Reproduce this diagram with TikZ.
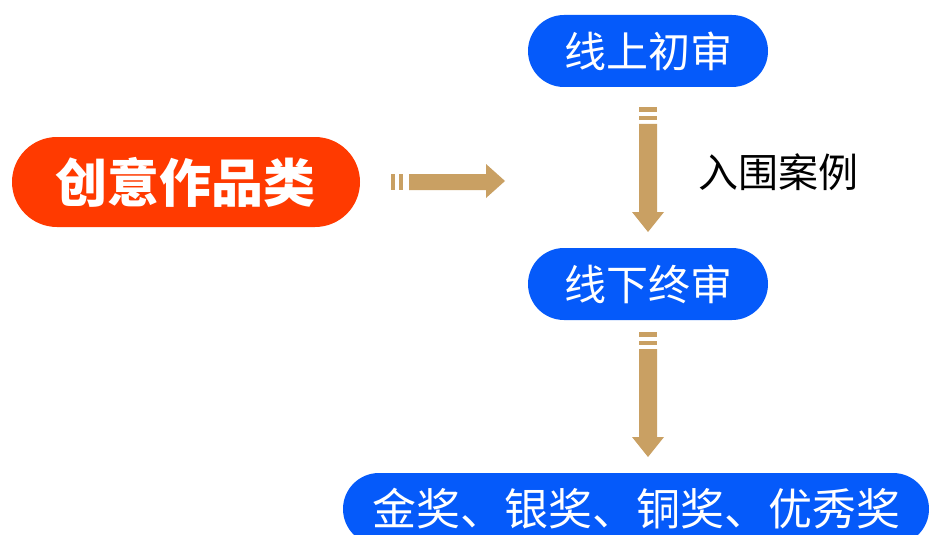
\documentclass[tikz,border=0pt]{standalone}
\usepackage{fontspec}
\setmainfont{Noto Sans CJK SC}
\definecolor{pillblue}{RGB}{5,90,250}
\definecolor{pillorange}{RGB}{255,58,0}
\definecolor{arrowgold}{RGB}{201,160,99}
\tikzset{
  pill/.style={fill=pillblue, text=white, minimum width=240pt, minimum height=72pt,
    rounded corners=36pt, inner sep=0pt, font=\fontsize{42}{48}\selectfont},
  goldfill/.style={fill=arrowgold},
}
\begin{document}
\begin{tikzpicture}[x=1pt,y=-1pt]
\useasboundingbox (0,0) rectangle (930,535);
\clip (0,0) rectangle (930,535);
\fill[white] (0,0) rectangle (930,535);
% nodes
\node[pill, fill=pillorange, minimum width=348pt, minimum height=90pt, rounded corners=45pt,
  font=\fontsize{52}{58}\selectfont\bfseries] (cat) at (186,182) {创意作品类};
\node[pill] (online) at (648,51) {线上初审};
\node[pill] (offline) at (648,284) {线下终审};
\node[pill, minimum width=586pt, rounded corners=36pt, font=\fontsize{44}{50}\selectfont] (awards) at (636,509) {金奖、银奖、铜奖、优秀奖};
\node[font=\fontsize{40}{46}\selectfont, text=black, inner sep=0pt] (label) at (778,172) {入围案例};
% horizontal arrow
\fill[goldfill] (391,174) rectangle (395,190);
\fill[goldfill] (399,174) rectangle (403,190);
\fill[goldfill] (409,174) -- (486,174) -- (486,164) -- (505,181) -- (486,198) -- (486,190) -- (409,190) -- cycle;
% vertical arrow 1
\fill[goldfill] (639,107) rectangle (657,112);
\fill[goldfill] (639,116) rectangle (657,120);
\fill[goldfill] (639,124) -- (657,124) -- (657,212) -- (664,212) -- (648,232) -- (632,212) -- (639,212) -- cycle;
% vertical arrow 2
\fill[goldfill] (639,332) rectangle (657,337);
\fill[goldfill] (639,341) rectangle (657,345);
\fill[goldfill] (639,349) -- (657,349) -- (657,437) -- (664,437) -- (648,457) -- (632,437) -- (639,437) -- cycle;
\end{tikzpicture}
\end{document}
